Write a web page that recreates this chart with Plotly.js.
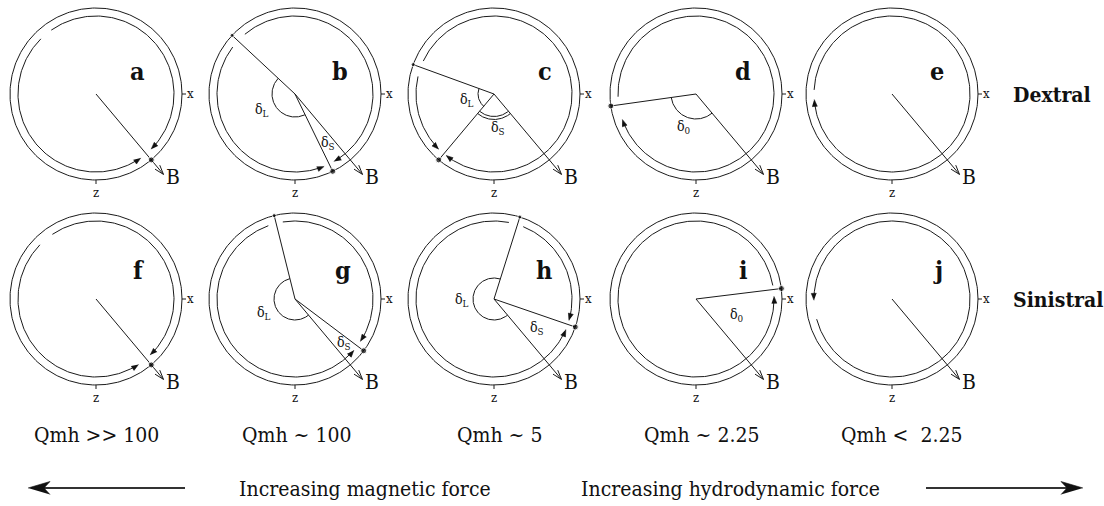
<!DOCTYPE html>
<html><head><meta charset="utf-8">
<script src="https://cdn.plot.ly/plotly-3.0.1.min.js"></script>
<style>html,body{margin:0;padding:0;background:#fff}</style>
</head><body><div id="chart" style="width:1104px;height:506px"></div>
<script>
// ---------------- Data (angles in degrees, counter-clockwise from +x) ----------------
const panelLetters = ['a','b','c','d','e','f','g','h','i','j'];
const rowLabels = ['Dextral','Sinistral'];
const qmhLabels = ['Qmh >> 100','Qmh ~ 100','Qmh ~ 5','Qmh ~ 2.25','Qmh <  2.25'];
const forceLabels = ['Increasing magnetic force','Increasing hydrodynamic force'];
const fieldAngle = -50;                         // direction of B
// inner flow arcs: travel from start to end, arrowhead at end
const arcStarts = [[125,135],[130,143],[155,167],[182],[177],[124,136],[99,110],[68,79],[10],[195]];
const arcEnds   = [[-45,305],[-60,292],[-128,225],[-161],[-176],[-46,303],[-33,319],[-16,337],[362],[541]];
// particle positions on the outer ring
const dotAngles    = [[-50],[137,-64],[160,-130],[188],[],[-50],[104,-37],[72.5,-19],[7],[]];
// radii drawn from centre to the ring
const radiusAngles = [[],[137,-64],[160,-130],[188],[],[],[104,-37],[72.5,-19],[7],[]];
// angle arcs (delta) : from / to
const deltaFrom = [[],[137],[160,230,230],[188],[],[],[104],[72.5],[],[]];
const deltaTo   = [[],[296],[230,310,310],[310],[],[],[310],[310],[],[]];
const deltaLabels = [[],['δ<sub>L</sub>','δ<sub>S</sub>'],['δ<sub>L</sub>','δ<sub>S</sub>'],['δ<sub>0</sub>'],[],[],
                     ['δ<sub>L</sub>','δ<sub>S</sub>'],['δ<sub>L</sub>','δ<sub>S</sub>'],['δ<sub>0</sub>'],[]];

// ---------------- Layout constants ----------------
const colX = [96, 295, 494, 696, 892];
const rowY = [94, 299];
const R_OUT = 86, R_IN = 78, B_LEN = 105;
const deltaRad = [[],[23],[16,22.5,25.5],[25],[],[],[21],[21],[],[]];
const deltaLabelOff = [[],[[-33,16],[33,49]],[[-27,6],[4,34]],[[-12,33]],[],[],[[-31,14],[49,44]],[[-32,1],[43,29]],[[41,16]],[]];
const letterDx = [41,45,51,47,45,42,48,50,47,46];
const qmhX = [96,296,499,701,901];
const FONT = '"DejaVu Serif Condensed", "DejaVu Serif", serif';

const rad = d => d*Math.PI/180;
const pt = (cx,cy,r,a) => [cx + r*Math.cos(rad(a)), cy - r*Math.sin(rad(a))];

const lx=[], ly=[];
const tx=[], ty=[];
const bx=[], by=[];
const dxL=[], dyL=[], dS=[];
const ann=[];

function addPts(X,Y,pts){ pts.forEach(p=>{X.push(p[0]);Y.push(p[1]);}); X.push(null); Y.push(null); }
function arcPts(cx,cy,r,a0,a1){
  const n=Math.max(2,Math.ceil(Math.abs(a1-a0)/1.2)); const p=[];
  for(let k=0;k<=n;k++) p.push(pt(cx,cy,r,a0+(a1-a0)*k/n));
  return p;
}
function txt(x,y,text,size,opts){
  ann.push(Object.assign({x:x,y:y,xref:'x',yref:'y',text:text,showarrow:false,
    font:{family:FONT,size:size,color:'#111111'},xanchor:'center',yanchor:'middle'},opts||{}));
}

for(let i=0;i<10;i++){
  const col=i%5, row=Math.floor(i/5);
  const cx=colX[col], cy=rowY[row];
  addPts(lx,ly,arcPts(cx,cy,R_OUT,0,360));
  arcStarts[i].forEach((a0,j)=>{
    const a1=arcEnds[i][j]; const s=Math.sign(a1-a0);
    addPts(lx,ly,arcPts(cx,cy,R_IN,a0,a1-s*3));
    const T=pt(cx,cy,R_IN,a1);
    const d=[s*(-Math.sin(rad(a1))), s*(-Math.cos(rad(a1)))];
    const n=[-d[1],d[0]]; const L=7, W=2.6;
    addPts(tx,ty,[T,[T[0]-d[0]*L+n[0]*W,T[1]-d[1]*L+n[1]*W],[T[0]-d[0]*L-n[0]*W,T[1]-d[1]*L-n[1]*W]]);
  });
  radiusAngles[i].forEach(a=>addPts(lx,ly,[[cx,cy],pt(cx,cy,R_OUT,a)]));
  dotAngles[i].forEach((a,j)=>{const p=pt(cx,cy,R_OUT,a); dxL.push(p[0]); dyL.push(p[1]);
    dS.push(dotAngles[i].length>1 && j===0 ? 4 : 6);});
  const Bt=pt(cx,cy,B_LEN,fieldAngle);
  addPts(lx,ly,[[cx,cy],Bt]);
  const ub=[Math.cos(rad(fieldAngle)),-Math.sin(rad(fieldAngle))];
  [18,-18].forEach(h=>{const c=Math.cos(rad(h)), sn=Math.sin(rad(h));
    const v=[ub[0]*c-ub[1]*sn, ub[0]*sn+ub[1]*c];
    addPts(lx,ly,[Bt,[Bt[0]-v[0]*10,Bt[1]-v[1]*10]]);});
  txt(cx+77,cy+83,'B',21);
  addPts(lx,ly,[[cx+R_OUT,cy],[cx+R_OUT+4,cy]]);
  txt(cx+94,cy-1,'x',13);
  addPts(lx,ly,[[cx,cy+R_OUT],[cx,cy+R_OUT+4]]);
  txt(cx,cy+98,'z',13);
  deltaFrom[i].forEach((a0,j)=>addPts(lx,ly,arcPts(cx,cy,deltaRad[i][j],a0,deltaTo[i][j])));
  deltaLabels[i].forEach((t,j)=>txt(cx+deltaLabelOff[i][j][0],cy+deltaLabelOff[i][j][1],t,14));
  txt(cx+letterDx[i], row===0?cy-23:cy-29, '<b>'+panelLetters[i]+'</b>', 25);
}
rowLabels.forEach((t,r)=>txt(1011,rowY[r],'<b>'+t+'</b>',21,{xanchor:'left'}));
qmhLabels.forEach((t,k)=>txt(qmhX[k],435,t,21));
txt(365,489,forceLabels[0],21);
txt(730,489,forceLabels[1],21);
addPts(bx,by,[[185,488],[40,488]]);
addPts(bx,by,[[926,488],[1071,488]]);
addPts(tx,ty,[[28,488],[50,481.5],[44,488],[50,494.5]]);
addPts(tx,ty,[[1083,488],[1061,481.5],[1067,488],[1061,494.5]]);

const traces=[
  {x:lx,y:ly,mode:'lines',line:{color:'#1a1a1a',width:1},hoverinfo:'skip',connectgaps:false},
  {x:bx,y:by,mode:'lines',line:{color:'#333333',width:2},hoverinfo:'skip',connectgaps:false},
  {x:tx,y:ty,mode:'lines',fill:'toself',fillcolor:'#111111',line:{color:'#111111',width:0.6},hoverinfo:'skip'},
  {x:dxL,y:dyL,mode:'markers',marker:{color:'#000000',size:dS},hoverinfo:'skip'}
];
const layout={
  width:1104,height:506,margin:{l:0,r:0,t:0,b:0},
  font:{family:FONT,color:'#111111'},
  paper_bgcolor:'#ffffff',plot_bgcolor:'#ffffff',showlegend:false,
  xaxis:{range:[0,1104],visible:false,fixedrange:true},
  yaxis:{range:[506,0],visible:false,fixedrange:true},
  annotations:ann
};
Plotly.newPlot('chart',traces,layout,{staticPlot:true,displayModeBar:false});
</script></body></html>
